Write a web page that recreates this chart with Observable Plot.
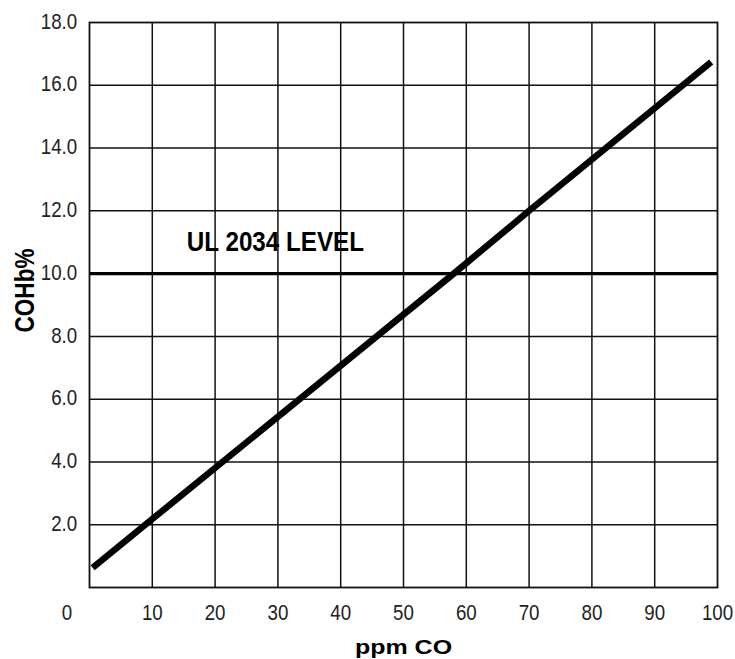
<!DOCTYPE html>
<html>
<head>
<meta charset="utf-8">
<script src="https://cdn.jsdelivr.net/npm/d3@7"></script>
<script src="https://cdn.jsdelivr.net/npm/@observablehq/plot@0.6"></script>
<style>
  html, body { margin: 0; padding: 0; background: #fff; }
  #chart svg { display: block; }
</style>
</head>
<body>
<div id="chart"></div>
<script>
// Data
const ppm  = [0.5, 10, 58, 70, 99];
const cohb = [0.63, 2.18, 10.0, 12.0, 16.74];
const levelValue = [10];
const levelLabel = ["UL 2034 LEVEL"];
const xTicks = [10, 20, 30, 40, 50, 60, 70, 80, 90, 100];
const xZeroLabel = [0];
const yTicks = [2, 4, 6, 8, 10, 12, 14, 16, 18];
const xGrid = [10, 20, 30, 40, 50, 60, 70, 80, 90];
const yGrid = [2, 4, 6, 8, 10, 12, 14, 16];
const xTitle = "ppm CO";
const yTitle = "COHb%";

const rows = ppm.map((x, i) => ({x, y: cohb[i]}));
const font = '"Liberation Sans", Arial, sans-serif';

const chart = Plot.plot({
  width: 735,
  height: 659,
  marginLeft: 89,
  marginRight: 18,
  marginTop: 22,
  marginBottom: 72,
  x: {domain: [0, 100]},
  y: {domain: [0, 18]},
  style: {background: "#fff", color: "#111"},
  marks: [
    Plot.ruleX(xGrid, {stroke: "#111", strokeWidth: 1.5}),
    Plot.ruleY(yGrid, {stroke: "#111", strokeWidth: 1.5}),
    Plot.ruleY(levelValue, {stroke: "#000", strokeWidth: 3.3}),
    Plot.frame({stroke: "#111", strokeWidth: 1.8}),
    Plot.line(rows, {x: "x", y: "y", stroke: "#000", strokeWidth: 6.5, strokeLinecap: "butt"}),
    Plot.text(levelLabel, {x: 15.5, y: 11.0, text: d => d, textAnchor: "start", lineAnchor: "middle", fontSize: 28.5, fontWeight: "bold", fontFamily: font, fill: "#000"}),
    Plot.axisX(xTicks, {tickSize: 0, tickPadding: 17, tickFormat: d => String(d), fontSize: 22.3, fontFamily: font, fill: "#222", label: null}),
    Plot.text(xZeroLabel, {x: d => d, frameAnchor: "bottom", lineAnchor: "top", dy: 17, dx: -22.6, text: d => String(d), fontSize: 22.3, fontFamily: font, fill: "#222"}),
    Plot.axisY(yTicks, {tickSize: 0, tickPadding: 12.3, dy: -1, tickFormat: d => d.toFixed(1), fontSize: 22.3, fontFamily: font, fill: "#222", label: null}),
    Plot.text([xTitle], {frameAnchor: "bottom", textAnchor: "middle", lineAnchor: "middle", dy: 60, text: d => d, fontSize: 20.5, fontWeight: "bold", fontFamily: font, fill: "#000"}),
    Plot.text([yTitle], {frameAnchor: "left", textAnchor: "middle", lineAnchor: "middle", dx: -64, dy: -14.5, rotate: -90, text: d => d, fontSize: 28, fontWeight: "bold", fontFamily: font, fill: "#000"})
  ]
});
document.getElementById("chart").appendChild(chart);

// Horizontally condense / stretch glyphs to mimic the reference typeface
function scaleText(el, sx) {
  const t = el.getAttribute("transform");
  if (t) {
    el.setAttribute("transform", `${t} scale(${sx},1)`);
  } else {
    const x = +el.getAttribute("x") || 0;
    el.setAttribute("transform", `translate(${x},0) scale(${sx},1) translate(${-x},0)`);
  }
}
const svg = d3.select(chart);
svg.selectAll("text").each(function() {
  const s = this.textContent;
  if (s === xTitle) scaleText(this, 1.22);
  else if (s === yTitle) scaleText(this, 0.806);
  else if (s === levelLabel[0]) scaleText(this, 0.85);
  else if (/^[0-9.]+$/.test(s)) scaleText(this, 0.84);
});
</script>
</body>
</html>
